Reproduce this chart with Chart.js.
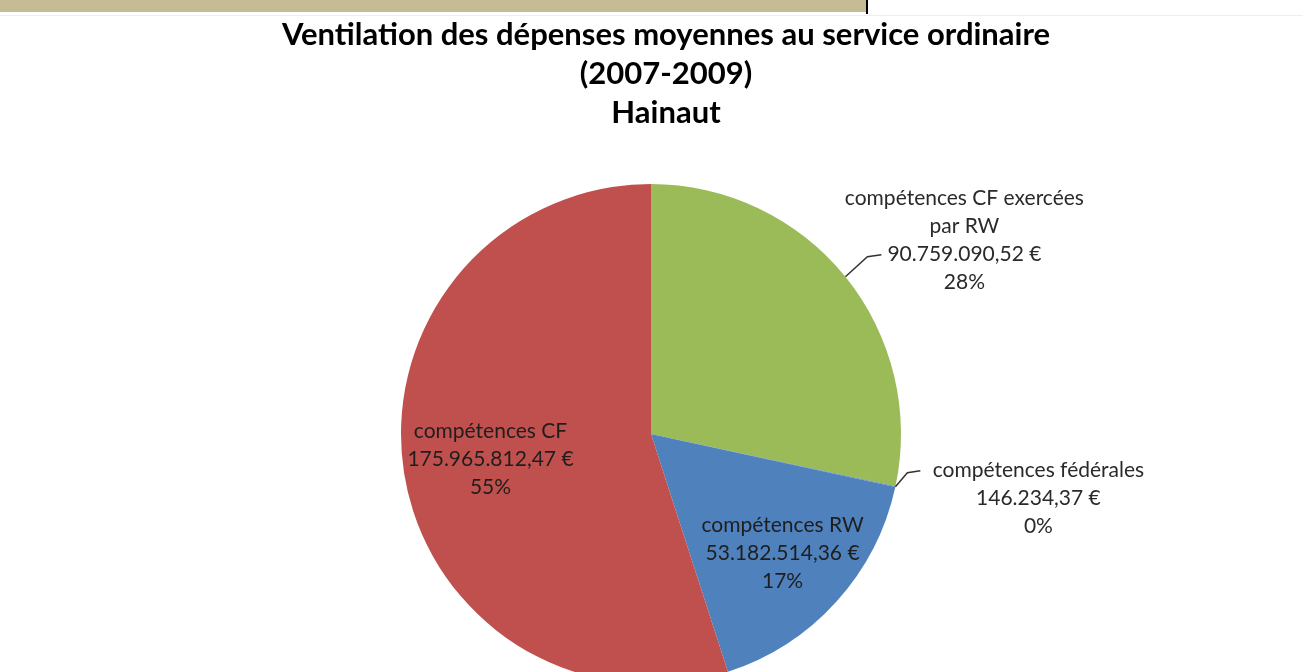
<!DOCTYPE html>
<html lang="fr">
<head>
<meta charset="utf-8">
<title>Ventilation des dépenses moyennes - Hainaut</title>
<script src="https://cdn.jsdelivr.net/npm/chart.js@4"></script>
<style>
  html, body { margin: 0; padding: 0; background: #fff; overflow: hidden; }
  #topbar { position: absolute; left: 0; top: 0; width: 866px; height: 12px; background: #c5bb95; }
  #topbar-edge { position: absolute; left: 866px; top: 0; width: 2px; height: 14px; background: #000; }
  #rule { position: absolute; left: 0; top: 15px; width: 1303px; height: 1px; background: #eeeeee; }
  #wrap { position: absolute; left: 0; top: 0; width: 1303px; height: 700px; }
</style>
</head>
<body>
<div id="topbar"></div>
<div id="topbar-edge"></div>
<div id="rule"></div>
<div id="wrap"><canvas id="pie" width="1303" height="700"></canvas></div>
<script>
// Hainaut, dépenses moyennes 2007-2009
const titre = ['Ventilation des dépenses moyennes au service ordinaire', '(2007-2009)', 'Hainaut'];
const categories = [
    ['compétences CF exercées', 'par RW'],
    ['compétences fédérales'],
    ['compétences RW'],
    ['compétences CF']
];
const montants = [90759090.52, 146234.37, 53182514.36, 175965812.47];
const couleurs = ['#9bbb59', '#4f81bd', '#4f81bd', '#c0504d'];

// where each label goes: inside the slice (at a fraction of the radius),
// or outside with a leader line
const placement = [
    { outside: true, leader: [[22, -20], [36, -22]], text: [119, -79] },
    { outside: true, leader: [[12, -14], [25, -16]], text: [143, -16] },
    { outside: false, r: 0.71 },
    { outside: false, r: 0.65 }
];

const FONT = 'Lato, "Open Sans", sans-serif';

function euro(v) {
    const parts = v.toFixed(2).split('.');
    const ent = parts[0].replace(/\B(?=(\d{3})+(?!\d))/g, '.');
    return ent + ',' + parts[1] + ' €';
}

const total = montants.reduce((a, b) => a + b, 0);

const etiquettes = {
    id: 'etiquettes',
    afterDraw(chart) {
        const ctx = chart.ctx;
        ctx.save();

        // title
        ctx.fillStyle = '#000';
        ctx.font = 'bold 31px ' + FONT;
        ctx.textAlign = 'center';
        ctx.textBaseline = 'middle';
        titre.forEach((t, i) => ctx.fillText(t, 666, 35 + i * 39));

        ctx.font = '21px ' + FONT;
        const meta = chart.getDatasetMeta(0);
        meta.data.forEach((arc, i) => {
            const p = arc.getProps(['x', 'y', 'startAngle', 'endAngle', 'outerRadius'], true);
            const mid = (p.startAngle + p.endAngle) / 2;
            const lines = categories[i].concat([euro(montants[i]), Math.round(montants[i] / total * 100) + '%']);
            const lh = 28;
            let cx, cy;
            if (placement[i].outside) {
                const ex = p.x + Math.cos(mid) * p.outerRadius;
                const ey = p.y + Math.sin(mid) * p.outerRadius;
                ctx.strokeStyle = '#333';
                ctx.lineWidth = 1.5;
                ctx.beginPath();
                ctx.moveTo(ex, ey);
                placement[i].leader.forEach(d => ctx.lineTo(ex + d[0], ey + d[1]));
                ctx.stroke();
                cx = ex + placement[i].text[0];
                cy = ey + placement[i].text[1];
                ctx.fillStyle = '#2a2a2a';
            } else {
                const r = p.outerRadius * placement[i].r;
                cx = p.x + Math.cos(mid) * r;
                cy = p.y + Math.sin(mid) * r - (lines.length - 1) * lh / 2;
                ctx.fillStyle = '#1e1e1e';
            }
            lines.forEach((l, k) => ctx.fillText(l, cx, cy + k * lh));
        });
        ctx.restore();
    }
};

new Chart(document.getElementById('pie'), {
    type: 'pie',
    data: {
        labels: categories.map(c => c.join(' ')),
        datasets: [{
            data: montants,
            backgroundColor: couleurs,
            borderWidth: 0
        }]
    },
    options: {
        responsive: false,
        animation: false,
        layout: { padding: { top: 184, bottom: 16, left: 0, right: 1 } },
        plugins: {
            legend: { display: false },
            tooltip: { enabled: false },
            title: { display: false }
        }
    },
    plugins: [etiquettes]
});
</script>
</body>
</html>
